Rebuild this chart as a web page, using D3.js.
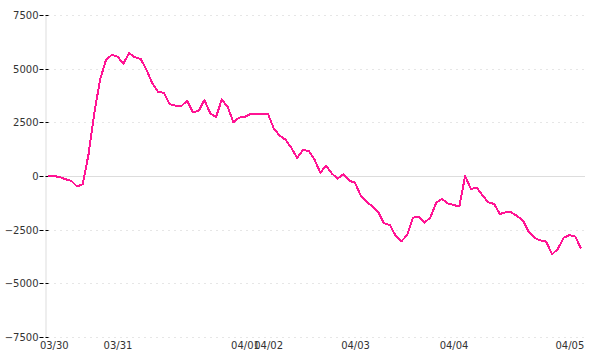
<!DOCTYPE html>
<html lang="en">
<head>
    <meta charset="UTF-8">
    <title>Line chart</title>
    <script src="https://d3js.org/d3.v7.min.js"></script>
    <style>
        body {
            margin: 0;
            padding: 0;
            background: #fff;
        }
        svg {
            display: block;
            font-family: "DejaVu Sans", Verdana, sans-serif;
        }
        .tick text {
            fill: #333;
        }
    </style>
</head>
<body>
    <svg id="chart" width="600" height="360"></svg>

    <script>
        // values, one per sample
        const values = [
            0, 0, -50, -150, -220, -490, -380, 1015, 2950, 4500,
            5400, 5640, 5560, 5230, 5720, 5530, 5450, 4950, 4320, 3920,
            3870, 3350, 3280, 3250, 3510, 2970, 3030, 3540, 2920, 2740,
            3570, 3220, 2500, 2720, 2760, 2900, 2880, 2880, 2870, 2200,
            1880, 1690, 1310, 850, 1210, 1170, 770, 150, 480, 110,
            -120, 90, -220, -310, -930, -1200, -1420, -1680, -2200, -2280,
            -2780, -3040, -2750, -1940, -1900, -2170, -1930, -1250, -1070, -1280,
            -1350, -1420, 0, -600, -550, -900, -1230, -1300, -1770, -1690,
            -1700, -1870, -2070, -2620, -2890, -3000, -3060, -3650, -3400, -2880,
            -2750, -2820, -3370
        ];

        // date labels and the sample index where each one sits
        const dateLabels = ["03/30", "03/31", "04/01", "04/02", "04/03", "04/04", "04/05"];
        const dateIndex = [1, 12, 34, 38, 53, 70, 90];

        const yTicks = [-7500, -5000, -2500, 0, 2500, 5000, 7500];

        const svg = d3.select("#chart");

        const x = d3.scaleLinear()
            .domain([0, values.length - 1])
            .range([48, 581]);

        const y = d3.scaleLinear()
            .domain([-7500, 7500])
            .range([337, 15]);

        // grid lines
        svg.append("g")
            .selectAll("line")
            .data(yTicks.filter(d => d !== 0))
            .join("line")
            .attr("x1", 48)
            .attr("x2", 585)
            .attr("y1", d => Math.round(y(d)) + 0.5)
            .attr("y2", d => Math.round(y(d)) + 0.5)
            .attr("stroke", "#e6e6e6")
            .attr("stroke-dasharray", "2,4");

        // zero line
        svg.append("line")
            .attr("x1", 45)
            .attr("x2", 585)
            .attr("y1", Math.round(y(0)) + 0.5)
            .attr("y2", Math.round(y(0)) + 0.5)
            .attr("stroke", "#dddddd");

        // y axis
        const yAxis = svg.append("g")
            .attr("transform", "translate(45.5,0)")
            .call(d3.axisLeft(y)
                .tickValues(yTicks)
                .tickFormat(d3.format("d"))
                .tickSize(0)
                .tickPadding(7));

        yAxis.select(".domain")
            .attr("stroke", "#dddddd");

        yAxis.selectAll(".tick")
            .attr("transform", d => `translate(0,${Math.round(y(d)) + 0.5})`);

        yAxis.selectAll(".tick").append("line")
            .attr("x1", -6)
            .attr("x2", 3)
            .attr("stroke", "#000")
            .attr("stroke-dasharray", "4,2");

        yAxis.selectAll(".tick text")
            .attr("font-size", "10px")
            .attr("font-family", "DejaVu Sans, sans-serif");

        // x axis, labels only
        const xAxis = svg.append("g")
            .attr("transform", "translate(0,342)")
            .call(d3.axisBottom(x)
                .tickValues(dateIndex)
                .tickFormat((d, i) => dateLabels[i])
                .tickSize(0)
                .tickPadding(0));

        xAxis.select(".domain").remove();
        xAxis.selectAll(".tick text")
            .attr("font-size", "10px")
            .attr("font-family", "DejaVu Sans, sans-serif");

        // the series, drawn without anti-aliasing like the original
        const line = d3.line()
            .x((d, i) => x(i))
            .y(d => y(d));

        svg.append("path")
            .datum(values)
            .attr("fill", "none")
            .attr("stroke", "#ff1493")
            .attr("stroke-width", 2)
            .attr("stroke-linejoin", "round")
            .attr("shape-rendering", "crispEdges")
            .attr("d", line);
    </script>
</body>
</html>
